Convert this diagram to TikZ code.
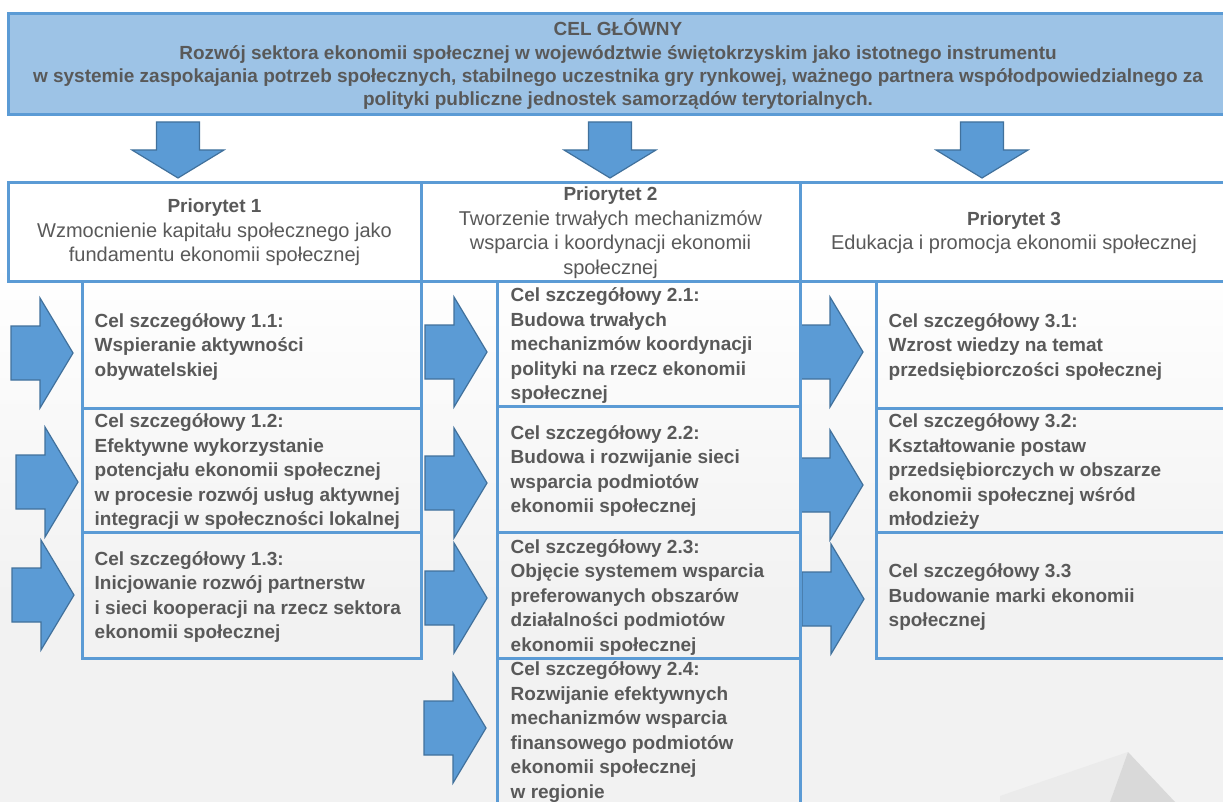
\documentclass[tikz,border=0pt]{standalone}
\usepackage{fontspec}
\setmainfont{Liberation Sans}

\definecolor{frame}{HTML}{5B9BD5}
\definecolor{headfill}{HTML}{9DC3E6}
\definecolor{arrowedge}{HTML}{41719C}
\definecolor{txt}{HTML}{595959}
\definecolor{bggray}{HTML}{F2F2F2}

\tikzset{
  box/.style={draw=frame, line width=3pt, inner sep=0pt, text=txt},
  mainbox/.style={box, fill=headfill, align=center, font=\bfseries\fontsize{19}{23.3}\selectfont},
  prio/.style={box, fill=white, align=center, font=\fontsize{20}{24.5}\selectfont},
  goal/.style={box},
  goaltext/.style={anchor=west, align=left, inner sep=0pt, text=txt, font=\bfseries\fontsize{19}{24.5}\selectfont},
  blockarrow/.style={fill=frame, draw=arrowedge, line width=1.2pt, line join=miter},
  downarrow/.pic={
    \path[blockarrow] (-21.5,-56) -- (21.5,-56) -- (21.5,-28) -- (46,-28) -- (0,0)
      -- (-46,-28) -- (-21.5,-28) -- cycle;
  },
  rightarrow/.pic={
    \path[blockarrow] (-62,-27) -- (-33,-27) -- (-33,-55) -- (0,0) -- (-33,55)
      -- (-33,27) -- (-62,27) -- cycle;
  }
}

\newcommand{\prioname}[1]{{\bfseries\fontsize{19}{24.5}\selectfont #1}}

\begin{document}
\begin{tikzpicture}[x=1pt, y=-1pt]

  \useasboundingbox (0,0) rectangle (1223,802);

  % page background
  \fill[white] (0,0) rectangle (1223,802);
  \shade[top color=white, bottom color=bggray] (0,260) rectangle (1223,600);
  \fill[bggray] (0,599) rectangle (1223,802);
  \fill[black!8] (1000,802) -- (1000,796) -- (1128,752) -- (1110,802) -- cycle;
  \fill[black!15] (1128,752) -- (1110,802) -- (1175,802) -- cycle;


  \node[mainbox, minimum width=1220, minimum height=101] (cel) at (618,64.5)
    {CEL GŁÓWNY\\
     Rozwój sektora ekonomii społecznej w województwie świętokrzyskim jako istotnego instrumentu\\
     w systemie zaspokajania potrzeb społecznych, stabilnego uczestnika gry rynkowej, ważnego partnera współodpowiedzialnego za\\
     polityki publiczne jednostek samorządów terytorialnych.};

  \pic at (178,178) {downarrow};
  \pic at (610,178) {downarrow};
  \pic at (982,178) {downarrow};


  \node[prio, minimum width=413, minimum height=99] (p1) at (214.5,232.5)
    {\prioname{Priorytet 1}\\Wzmocnienie kapitału społecznego jako\\fundamentu ekonomii społecznej};
  \node[prio, minimum width=379, minimum height=99] (p2) at (610.5,232.5)
    {\prioname{Priorytet 2}\\Tworzenie trwałych mechanizmów\\wsparcia i koordynacji ekonomii\\społecznej};
  \node[prio, minimum width=428, minimum height=99] (p3) at (1014,232.5)
    {\prioname{Priorytet 3}\\Edukacja i promocja ekonomii społecznej};


  \pic at (73,353) {rightarrow};
  \pic at (78,482) {rightarrow};
  \pic at (74,595) {rightarrow};
  \pic at (487,352) {rightarrow};
  \pic at (487,483) {rightarrow};
  \pic at (487,598) {rightarrow};
  \pic at (486,728) {rightarrow};
  \pic at (863,352) {rightarrow};
  \pic at (863,485) {rightarrow};
  \pic at (864,599) {rightarrow};


  \node[goal, minimum width=339, minimum height=126] (c11) at (251.5,345) {};
  \node[goal, minimum width=339, minimum height=124] (c12) at (251.5,470) {};
  \node[goal, minimum width=339, minimum height=126] (c13) at (251.5,595) {};
  \node[goal, minimum width=303, minimum height=124] (c21) at (648.5,344) {};
  \node[goal, minimum width=303, minimum height=126] (c22) at (648.5,469) {};
  \node[goal, minimum width=303, minimum height=126] (c23) at (648.5,595) {};
  \node[goal, minimum width=303, minimum height=152] (c24) at (648.5,734) {};
  \node[goal, minimum width=352, minimum height=126] (c31) at (1052,345) {};
  \node[goal, minimum width=352, minimum height=124] (c32) at (1052,470) {};
  \node[goal, minimum width=352, minimum height=126] (c33) at (1052,595) {};

  \node[goaltext] at ([xshift=14pt,yshift=-2pt]c11.west)
    {Cel szczegółowy 1.1:\\Wspieranie aktywności\\obywatelskiej};
  \node[goaltext] at ([xshift=14pt,yshift=-2pt]c12.west)
    {Cel szczegółowy 1.2:\\Efektywne wykorzystanie\\potencjału ekonomii społecznej\\w procesie rozwój usług aktywnej\\integracji w społeczności lokalnej};
  \node[goaltext] at ([xshift=14pt,yshift=-2pt]c13.west)
    {Cel szczegółowy 1.3:\\Inicjowanie rozwój partnerstw\\i sieci kooperacji na rzecz sektora\\ekonomii społecznej};
  \node[goaltext] at ([xshift=15pt,yshift=-2pt]c21.west)
    {Cel szczegółowy 2.1:\\Budowa trwałych\\mechanizmów koordynacji\\polityki na rzecz ekonomii\\społecznej};
  \node[goaltext] at ([xshift=15pt,yshift=-2pt]c22.west)
    {Cel szczegółowy 2.2:\\Budowa i rozwijanie sieci\\wsparcia podmiotów\\ekonomii społecznej};
  \node[goaltext] at ([xshift=15pt,yshift=-2pt]c23.west)
    {Cel szczegółowy 2.3:\\Objęcie systemem wsparcia\\preferowanych obszarów\\działalności podmiotów\\ekonomii społecznej};
  \node[goaltext] at ([xshift=15pt,yshift=2pt]c24.west)
    {Cel szczegółowy 2.4:\\Rozwijanie efektywnych\\mechanizmów wsparcia\\finansowego podmiotów\\ekonomii społecznej\\w regionie};
  \node[goaltext] at ([xshift=14pt,yshift=-2pt]c31.west)
    {Cel szczegółowy 3.1:\\Wzrost wiedzy na temat\\przedsiębiorczości społecznej};
  \node[goaltext] at ([xshift=14pt,yshift=-2pt]c32.west)
    {Cel szczegółowy 3.2:\\Kształtowanie postaw\\przedsiębiorczych w obszarze\\ekonomii społecznej wśród\\młodzieży};
  \node[goaltext] at ([xshift=14pt,yshift=-2pt]c33.west)
    {Cel szczegółowy 3.3\\Budowanie marki ekonomii\\społecznej};

\end{tikzpicture}
\end{document}
